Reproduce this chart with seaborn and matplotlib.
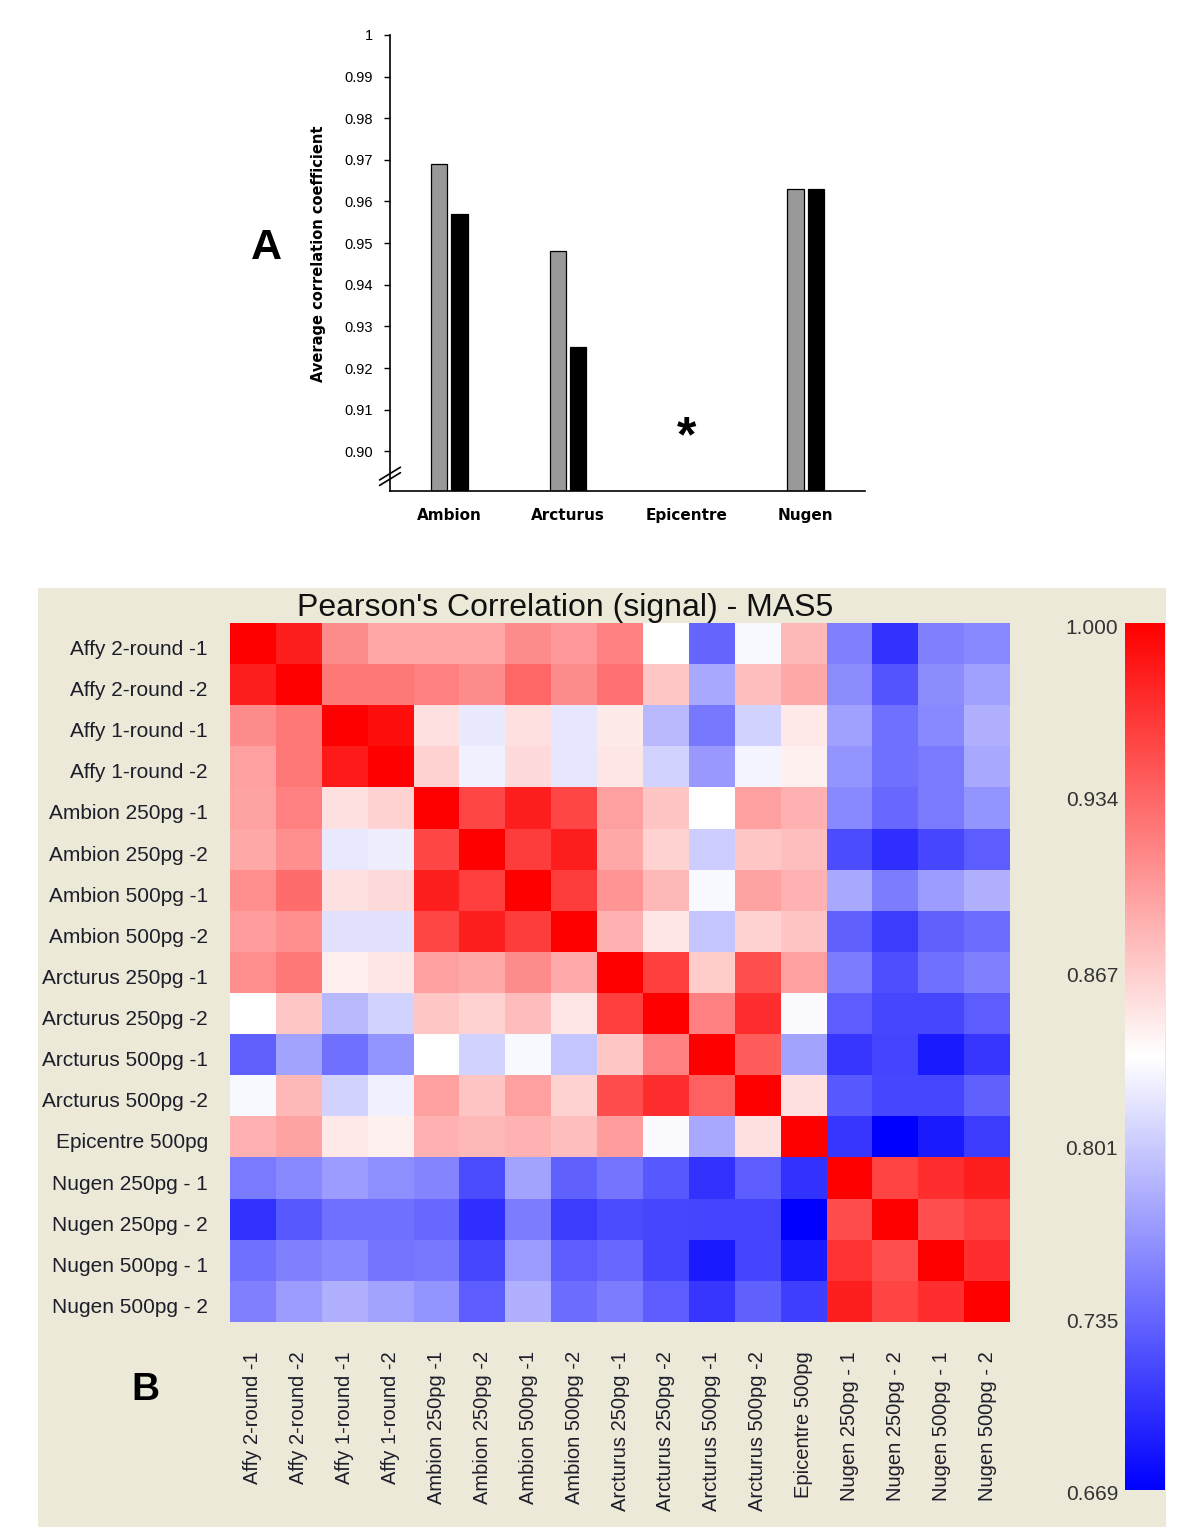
import numpy as np
import pandas as pd
import matplotlib
matplotlib.use("Agg")
import matplotlib.pyplot as plt
import matplotlib.transforms as mtransforms
import seaborn as sns
from matplotlib import font_manager
from matplotlib.patches import Rectangle
from matplotlib.lines import Line2D

# ---------------- Panel A data ----------------
kits = ["Ambion", "Arcturus", "Epicentre", "Nugen"]
series_names = ["250pg", "500pg"]
corr_250pg = [0.969, 0.948, np.nan, 0.963]
corr_500pg = [0.957, 0.925, np.nan, 0.963]
ytick_vals = [0.90, 0.91, 0.92, 0.93, 0.94, 0.95, 0.96, 0.97, 0.98, 0.99, 1.00]
ytick_labels = ["0.90", "0.91", "0.92", "0.93", "0.94", "0.95", "0.96",
                "0.97", "0.98", "0.99", "1"]

# ---------------- Panel B data ----------------
samples = ["Affy 2-round -1", "Affy 2-round -2", "Affy 1-round -1", "Affy 1-round -2",
           "Ambion 250pg -1", "Ambion 250pg -2", "Ambion 500pg -1", "Ambion 500pg -2",
           "Arcturus 250pg -1", "Arcturus 250pg -2", "Arcturus 500pg -1", "Arcturus 500pg -2",
           "Epicentre 500pg", "Nugen 250pg - 1", "Nugen 250pg - 2", "Nugen 500pg - 1",
           "Nugen 500pg - 2"]
col_labels = ["Affy 2-round -1", "Affy 2-round -2", "Affy 1-round -1", "Affy 1-round -2",
              "Ambion 250pg -1", "Ambion 250pg -2", "Ambion 500pg -1", "Ambion 500pg -2",
              "Arcturus 250pg -1", "Arcturus 250pg -2", "Arcturus 500pg -1", "Arcturus 500pg -2",
              "Epicentre 500pg", "Nugen 250pg - 1", "Nugen 250pg - 2", "Nugen 500pg - 1",
              "Nugen 500pg - 2"]
corr_rows = [
    [1.000, 0.980, 0.909, 0.892, 0.892, 0.892, 0.909, 0.901, 0.917, 0.835, 0.735, 0.830, 0.881, 0.752, 0.702, 0.752, 0.757],
    [0.980, 1.000, 0.922, 0.922, 0.917, 0.909, 0.934, 0.909, 0.927, 0.871, 0.778, 0.876, 0.891, 0.760, 0.724, 0.760, 0.773],
    [0.909, 0.922, 1.000, 0.990, 0.854, 0.821, 0.854, 0.818, 0.848, 0.788, 0.747, 0.806, 0.849, 0.773, 0.742, 0.757, 0.783],
    [0.896, 0.922, 0.983, 1.000, 0.864, 0.825, 0.859, 0.818, 0.851, 0.806, 0.768, 0.828, 0.844, 0.765, 0.742, 0.748, 0.778],
    [0.894, 0.917, 0.854, 0.864, 1.000, 0.954, 0.980, 0.954, 0.896, 0.873, 0.835, 0.896, 0.886, 0.757, 0.737, 0.748, 0.765],
    [0.891, 0.907, 0.820, 0.823, 0.954, 1.000, 0.960, 0.980, 0.891, 0.863, 0.801, 0.871, 0.876, 0.719, 0.700, 0.715, 0.729],
    [0.907, 0.930, 0.854, 0.859, 0.980, 0.959, 1.000, 0.960, 0.904, 0.881, 0.830, 0.894, 0.884, 0.778, 0.750, 0.770, 0.783],
    [0.899, 0.907, 0.816, 0.816, 0.954, 0.980, 0.960, 1.000, 0.886, 0.851, 0.796, 0.864, 0.873, 0.732, 0.709, 0.732, 0.739],
    [0.907, 0.922, 0.846, 0.851, 0.896, 0.891, 0.909, 0.889, 1.000, 0.959, 0.868, 0.949, 0.896, 0.750, 0.720, 0.742, 0.752],
    [0.835, 0.871, 0.788, 0.805, 0.871, 0.863, 0.878, 0.851, 0.959, 1.000, 0.917, 0.969, 0.831, 0.729, 0.715, 0.715, 0.729],
    [0.732, 0.775, 0.742, 0.765, 0.835, 0.805, 0.830, 0.796, 0.871, 0.917, 1.000, 0.940, 0.775, 0.705, 0.714, 0.687, 0.705],
    [0.830, 0.881, 0.805, 0.825, 0.896, 0.873, 0.896, 0.864, 0.950, 0.969, 0.937, 1.000, 0.854, 0.727, 0.715, 0.715, 0.732],
    [0.886, 0.894, 0.849, 0.844, 0.886, 0.881, 0.884, 0.876, 0.899, 0.831, 0.778, 0.854, 1.000, 0.705, 0.669, 0.687, 0.709],
    [0.748, 0.757, 0.770, 0.762, 0.755, 0.719, 0.775, 0.732, 0.744, 0.727, 0.702, 0.729, 0.702, 1.000, 0.955, 0.969, 0.980],
    [0.702, 0.727, 0.742, 0.742, 0.737, 0.700, 0.750, 0.709, 0.719, 0.715, 0.714, 0.714, 0.669, 0.950, 1.000, 0.949, 0.959],
    [0.742, 0.752, 0.757, 0.744, 0.747, 0.715, 0.770, 0.729, 0.737, 0.715, 0.687, 0.714, 0.687, 0.967, 0.949, 1.000, 0.969],
    [0.752, 0.770, 0.783, 0.775, 0.765, 0.729, 0.783, 0.739, 0.750, 0.729, 0.705, 0.732, 0.710, 0.980, 0.955, 0.969, 1.000],
]
cbar_ticks = [0.669, 0.735, 0.801, 0.867, 0.934, 1.000]
cbar_labels = ["0.669", "0.735", "0.801", "0.867", "0.934", "1.000"]
cmin, cmax = 0.669, 1.000

# ---------------- style ----------------
sns.set_style("white")
plt.rcParams["font.family"] = ["Liberation Sans", "DejaVu Sans"]
plt.rcParams["text.color"] = "black"
names = {f.name for f in font_manager.fontManager.ttflist}
if "Liberation Sans Narrow" in names:
    narrow_family, narrow_size = ["Liberation Sans Narrow", "DejaVu Sans"], 12
else:
    narrow_family, narrow_size = ["Liberation Sans", "DejaVu Sans"], 10.5

fig = plt.figure(figsize=(12, 15.37), dpi=100)
fig.patch.set_facecolor("white")

# beige panel behind B
fig.patches.append(Rectangle((0.0317, 0.0065), 0.94, 0.611, transform=fig.transFigure,
                             facecolor="#ECE9D8", edgecolor="none", zorder=-10))

# ---------------- Panel A ----------------
ax1 = fig.add_axes([0.325, 0.6806, 0.3958, 0.2967])
ax1.set_facecolor("white")
dfA = pd.DataFrame({
    "kit": kits * 2,
    "amount": [series_names[0]] * len(kits) + [series_names[1]] * len(kits),
    "corr": corr_250pg + corr_500pg,
})
sns.barplot(data=dfA, x="kit", y="corr", hue="amount", order=kits, hue_order=series_names,
            palette=["#999999", "#000000"], width=0.34, gap=0.2, edgecolor="black",
            linewidth=0.9, errorbar=None, legend=False, ax=ax1)
ax1.set_ylim(0.8905, 1.0)
ax1.set_xlim(-0.5, 3.5)
for s in ["top", "right"]:
    ax1.spines[s].set_visible(False)
for s in ["left", "bottom"]:
    ax1.spines[s].set_color("black")
    ax1.spines[s].set_linewidth(1.2)
ax1.set_yticks(ytick_vals, labels=ytick_labels)
ax1.tick_params(axis="y", direction="out", length=4, width=1, pad=8, left=True,
                labelsize=narrow_size, colors="black")
for t in ax1.get_yticklabels():
    t.set_family(narrow_family)
ax1.tick_params(axis="x", length=0, pad=12, labelcolor="black")
for t in ax1.get_xticklabels():
    t.set_family(["DejaVu Sans"])
    t.set_fontweight("bold")
    t.set_fontsize(11)
ax1.set_xlabel("")
ax1.set_ylabel("Average correlation coefficient", fontsize=10.5, fontweight="bold",
               family=["DejaVu Sans"], color="black")
ax1.yaxis.set_label_coords(-0.135, 0.52)
ax1.text(2, 0.9032, "*", ha="center", va="center", fontsize=36, fontweight="bold",
         color="black")
# axis break marks
for dy in (0.0, 0.012):
    ax1.add_line(Line2D([-0.022, 0.022], [0.012 + dy, 0.040 + dy], transform=ax1.transAxes,
                        color="black", lw=1.2, clip_on=False))
fig.text(266 / 1200, 1 - 248 / 1537, "A", fontsize=31, fontweight="bold",
         ha="center", va="center", color="black")

# ---------------- Panel B ----------------
ax2 = fig.add_axes([0.1917, 0.1399, 0.65, 0.4548])
cax = fig.add_axes([0.9375, 0.0306, 0.0333, 0.564])
dfB = pd.DataFrame(corr_rows, index=samples, columns=col_labels)
sns.heatmap(dfB, cmap="bwr", vmin=cmin, vmax=cmax, ax=ax2, cbar_ax=cax,
            xticklabels=True, yticklabels=True)
ax2.tick_params(axis="both", length=0)
ax2.tick_params(axis="y", pad=16, labelsize=15, labelcolor="#1e1e2a")
ax2.tick_params(axis="x", pad=21, labelsize=14.5, labelcolor="#1e1e2a")
plt.setp(ax2.get_yticklabels(), rotation=0)
plt.setp(ax2.get_xticklabels(), rotation=90, ha="center", va="top")
ax2.set_xlabel("")
ax2.set_ylabel("")
# row labels in the reference sit slightly below the cell centres
shift = mtransforms.ScaledTranslation(0, -6 / 100, fig.dpi_scale_trans)
for t in ax2.get_yticklabels():
    t.set_transform(t.get_transform() + shift)

cb = ax2.collections[0].colorbar
cb.set_ticks(cbar_ticks, labels=cbar_labels)
cb.outline.set_visible(False)
cax.yaxis.set_ticks_position("left")
cax.tick_params(length=0, pad=5, labelsize=15, labelcolor="#333333")
shift_c = mtransforms.ScaledTranslation(0, -3 / 100, fig.dpi_scale_trans)
for t in cax.get_yticklabels():
    t.set_transform(t.get_transform() + shift_c)

fig.text(565 / 1200, 1 - 608 / 1537, "Pearson's Correlation (signal) - MAS5",
         fontsize=23, ha="center", va="center", color="#111111")
fig.text(145 / 1200, 1 - 1390 / 1537, "B", fontsize=28, fontweight="bold",
         ha="center", va="center", color="black")

fig.savefig("out.png", dpi=100)
